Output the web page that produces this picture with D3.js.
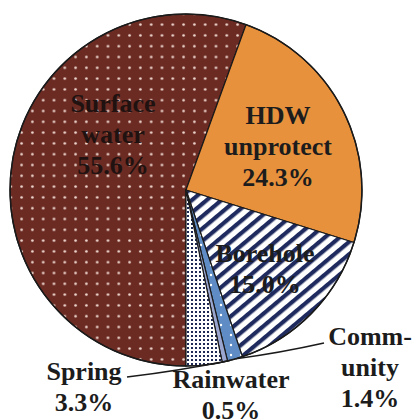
<!DOCTYPE html>
<html>
<head>
<meta charset="utf-8">
<script src="https://cdn.jsdelivr.net/npm/d3@7"></script>
<style>
  body { margin: 0; background: #fff; }
  text { font-family: "Liberation Serif", "Times New Roman", serif; font-weight: bold; }
</style>
</head>
<body>
<div class="chart"></div>
<script>
var svgWidth = 418;
var svgHeight = 420;

var cx = 186;
var cy = 190;
var radius = 176;

// data
var sources = ["Surface water", "HDW unprotect", "Borehole", "Community", "Rainwater", "Spring"];
var shares = [55.6, 24.3, 15.0, 1.4, 0.5, 3.3];
var labelLines = [
  ["Surface", "water", "55.6%"],
  ["HDW", "unprotect", "24.3%"],
  ["Borehole", "15.0%"],
  ["Comm-", "unity", "1.4%"],
  ["Rainwater", "0.5%"],
  ["Spring", "3.3%"]
];

// label placement (offsets from pie centre, first baseline)
var labelPos = [
  { x: -73, y: -78, color: "#1f1210" },
  { x: 92, y: -66, color: "#1c1c1c" },
  { x: 79, y: 72, color: "#1c1c1c" },
  { x: 184, y: 155, color: "#1c1c1c" },
  { x: 45, y: 198, color: "#1c1c1c" },
  { x: -102, y: 190, color: "#1c1c1c" }
];
var lineHeight = 31;

var svg = d3.select(".chart")
  .append("svg")
  .attr("width", svgWidth)
  .attr("height", svgHeight);

// patterns
var defs = svg.append("defs");

var pDots = defs.append("pattern")
  .attr("id", "surface")
  .attr("patternUnits", "userSpaceOnUse")
  .attr("width", 10.8).attr("height", 10.8)
  .attr("x", 3).attr("y", 2);
pDots.append("rect").attr("width", 10.8).attr("height", 10.8).attr("fill", "#6b2b23");
pDots.append("circle").attr("cx", 5.4).attr("cy", 5.4).attr("r", 1.3).attr("fill", "#f2dcd4");

var pStripe = defs.append("pattern")
  .attr("id", "borehole")
  .attr("patternUnits", "userSpaceOnUse")
  .attr("width", 9.5).attr("height", 9.5)
  .attr("patternTransform", "rotate(-40)");
pStripe.append("rect").attr("width", 9.5).attr("height", 9.5).attr("fill", "#ffffff");
pStripe.append("rect").attr("width", 9.5).attr("height", 4.2).attr("fill", "#1f2b5e");

var pComm = defs.append("pattern")
  .attr("id", "community")
  .attr("patternUnits", "userSpaceOnUse")
  .attr("width", 10).attr("height", 10);
pComm.append("rect").attr("width", 10).attr("height", 10).attr("fill", "#5f8cc4");
pComm.append("circle").attr("cx", 5).attr("cy", 5).attr("r", 1.2).attr("fill", "#ffffff");

var pSpring = defs.append("pattern")
  .attr("id", "spring")
  .attr("patternUnits", "userSpaceOnUse")
  .attr("width", 4).attr("height", 4);
pSpring.append("rect").attr("width", 4).attr("height", 4).attr("fill", "#ffffff");
pSpring.append("rect").attr("x", 1).attr("y", 1).attr("width", 2).attr("height", 2).attr("fill", "#1e2a55");

var fills = ["url(#surface)", "#e8913d", "url(#borehole)", "url(#community)", "#9aa6d0", "url(#spring)"];

var pie = d3.pie()
  .sort(null)
  .startAngle(Math.PI)
  .endAngle(3 * Math.PI);

var arc = d3.arc()
  .innerRadius(0)
  .outerRadius(radius);

var chartGroup = svg.append("g")
  .attr("transform", `translate(${cx}, ${cy})`);

var arcs = pie(shares);

chartGroup.selectAll("path")
  .data(arcs)
  .enter()
  .append("path")
  .attr("d", arc)
  .attr("fill", (d, i) => fills[i])
  .attr("stroke", "#1a1a1a")
  .attr("stroke-width", 1.2)
  .attr("stroke-linejoin", "round");

// outer rim
chartGroup.append("circle")
  .attr("r", radius)
  .attr("fill", "none")
  .attr("stroke", "#1a1a1a")
  .attr("stroke-width", 1.5);

// leader lines for Spring and Community
function rimPoint(angleDeg) {
  var a = angleDeg * Math.PI / 180;
  return [radius * Math.sin(a), -radius * Math.cos(a)];
}
var leaders = [
  { from: [-59, 187], to: rimPoint(165.5) },
  { from: [138, 153], to: rimPoint(163.5) }
];
chartGroup.selectAll(".leader")
  .data(leaders)
  .enter()
  .append("path")
  .attr("class", "leader")
  .attr("d", d => {
    var mx = (d.from[0] + d.to[0]) / 2;
    var my = (d.from[1] + d.to[1]) / 2 + 2;
    return `M${d.from[0]},${d.from[1]} Q${mx},${my} ${d.to[0]},${d.to[1]}`;
  })
  .attr("fill", "none")
  .attr("stroke", "#1a1a1a")
  .attr("stroke-width", 1.5);

// labels
var labels = chartGroup.selectAll(".label")
  .data(labelLines)
  .enter()
  .append("text")
  .attr("class", "label")
  .attr("text-anchor", "middle")
  .attr("font-size", 26)
  .attr("fill", (d, i) => labelPos[i].color)
  .attr("transform", (d, i) => `translate(${labelPos[i].x}, ${labelPos[i].y})`);

labels.selectAll("tspan")
  .data(d => d)
  .enter()
  .append("tspan")
  .attr("x", 0)
  .attr("y", (d, j) => j * lineHeight)
  .text(d => d);
</script>
</body>
</html>
